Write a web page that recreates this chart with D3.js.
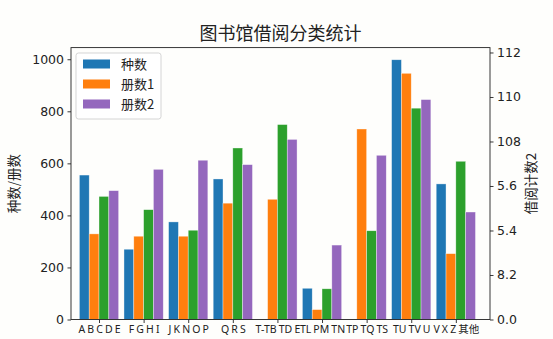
<!DOCTYPE html>
<html>
<head>
<meta charset="utf-8">
<script src="https://cdn.jsdelivr.net/npm/d3@7"></script>
<style>
  html, body { margin: 0; padding: 0; background: #fefefc; }
  svg { display: block; }
</style>
</head>
<body>
<svg id="chart" width="553" height="339"></svg>
<script>
// Category groups along the x axis
const groups = ["A B C D E", "F G H I", "J K N O P", "Q R S", "T-TB TD E", "TL PM TN", "TP TQ TS", "TU TV U", "V X Z 其他"];

// Series values per group
const kinds   = [555, 270, 375, 540, 0, 120, 0, 998, 521];   // 种数
const vol1    = [329, 320, 320, 447, 462, 38, 732, 946, 253]; // 册数1
const loans2  = [473, 422, 343, 659, 749, 118, 341, 812, 608]; // 借阅计数2
const vol2    = [495, 577, 612, 595, 692, 286, 631, 845, 413]; // 册数2

const leftTicks = [0, 200, 400, 600, 800, 1000];
const rightTickLabels = ["0.0", "8.2", "5.4", "5.6", "108", "110", "112"];

const series = [
  { name: "种数",  values: kinds,  color: "#1f77b4", legend: true },
  { name: "册数1", values: vol1,   color: "#ff7f0e", legend: true },
  { name: "借阅计数2", values: loans2, color: "#2ca02c", legend: false },
  { name: "册数2", values: vol2,   color: "#9467bd", legend: true }
];

const svg = d3.select("#chart");
const plot = { left: 71, right: 490, top: 47.6, bottom: 319.5 };
const barW = 0.22;

const x = d3.scaleLinear().domain([-0.628, 8.766]).range([plot.left, plot.right]);
const y = d3.scaleLinear().domain([0, 1044.75]).range([plot.bottom, plot.top]);
const y2 = d3.scaleLinear().domain([0, 6.11]).range([plot.bottom, plot.top]);

const tickFont = "DejaVu Sans, sans-serif";
const cjkFont = "'Noto Sans CJK SC', sans-serif";

// Bars
series.forEach((s, si) => {
  svg.append("g")
    .selectAll("rect")
    .data(s.values)
    .join("rect")
    .attr("x", (d, i) => x(i + (si - 2) * barW))
    .attr("width", x(barW) - x(0))
    .attr("y", d => y(d))
    .attr("height", d => y(0) - y(d))
    .attr("fill", s.color)
    .attr("stroke", "#ffffff")
    .attr("stroke-opacity", 0.6)
    .attr("stroke-width", 0.6);
});

// Frame
svg.append("rect")
  .attr("x", plot.left).attr("y", plot.top)
  .attr("width", plot.right - plot.left).attr("height", plot.bottom - plot.top)
  .attr("fill", "none").attr("stroke", "#222").attr("stroke-width", 0.9);

// Left axis
const gl = svg.append("g").attr("transform", `translate(${plot.left},0)`)
  .call(d3.axisLeft(y).tickValues(leftTicks).tickFormat(d3.format("d")).tickSize(3.5).tickPadding(3.5));
gl.select(".domain").remove();
gl.selectAll("text").attr("font-family", tickFont).attr("font-size", 12.5).attr("fill", "#222");
gl.selectAll("line").attr("stroke", "#222").attr("stroke-width", 0.9);

// Right axis
const gr = svg.append("g").attr("transform", `translate(${plot.right},0)`)
  .call(d3.axisRight(y2).tickValues(d3.range(rightTickLabels.length))
    .tickFormat(i => rightTickLabels[i]).tickSize(3.5).tickPadding(3.5));
gr.select(".domain").remove();
gr.selectAll("text").attr("font-family", tickFont).attr("font-size", 12.5).attr("fill", "#222");
gr.selectAll("line").attr("stroke", "#222").attr("stroke-width", 0.9);

// Bottom axis
const gb = svg.append("g").attr("transform", `translate(0,${plot.bottom})`)
  .call(d3.axisBottom(x).tickValues(d3.range(groups.length))
    .tickFormat(i => groups[i]).tickSize(3.5).tickPadding(2.5));
gb.select(".domain").remove();
gb.selectAll("text").attr("font-family", "'Noto Sans', 'Noto Sans CJK SC', sans-serif")
  .attr("font-size", 10.5).attr("word-spacing", "-0.6px").attr("fill", "#222");
gb.selectAll("line").attr("stroke", "#222").attr("stroke-width", 0.9);

// Title
svg.append("text")
  .attr("x", (plot.left + plot.right) / 2).attr("y", 40)
  .attr("text-anchor", "middle")
  .attr("font-family", cjkFont).attr("font-size", 18).attr("fill", "#222")
  .text("图书馆借阅分类统计");

// Axis titles
const midY = (plot.top + plot.bottom) / 2;
svg.append("text")
  .attr("transform", `translate(19,${midY}) rotate(-90)`)
  .attr("text-anchor", "middle")
  .attr("font-family", cjkFont).attr("font-size", 13.5).attr("fill", "#222")
  .text("种数/册数");
svg.append("text")
  .attr("transform", `translate(536,${midY}) rotate(-90)`)
  .attr("text-anchor", "middle")
  .attr("font-family", cjkFont).attr("font-size", 13.5).attr("fill", "#222")
  .text("借阅计数2");

// Legend
const legendItems = series.filter(s => s.legend);
const lg = svg.append("g").attr("transform", "translate(76,53)");
lg.append("rect")
  .attr("width", 85).attr("height", 66).attr("rx", 2.5)
  .attr("fill", "#ffffff").attr("fill-opacity", 0.85)
  .attr("stroke", "#d0d0d0").attr("stroke-width", 0.9);
legendItems.forEach((s, i) => {
  const row = lg.append("g").attr("transform", `translate(0,${11 + i * 20})`);
  row.append("rect").attr("x", 7).attr("y", -4.5).attr("width", 27).attr("height", 9).attr("fill", s.color);
  row.append("text").attr("x", 45).attr("y", 0).attr("dy", "0.36em")
    .attr("font-family", cjkFont).attr("font-size", 13).attr("fill", "#222")
    .text(s.name);
});
</script>
</body>
</html>
